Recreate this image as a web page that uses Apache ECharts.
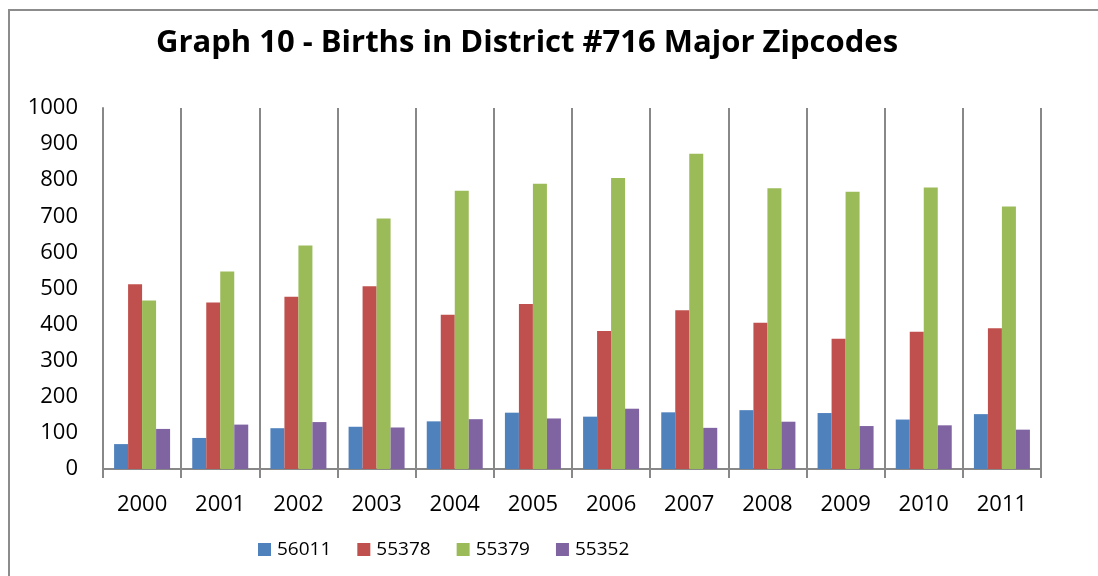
<!DOCTYPE html>
<html>
<head>
<meta charset="utf-8">
<script src="https://cdn.jsdelivr.net/npm/echarts@6/dist/echarts.min.js"></script>
<style>
  html, body { margin: 0; padding: 0; background: #fff; }
  #chart { width: 1098px; height: 576px; }
</style>
</head>
<body>
<div id="chart"></div>
<script>
const years = ["2000", "2001", "2002", "2003", "2004", "2005", "2006", "2007", "2008", "2009", "2010", "2011"];
const zip56011 = [69, 86, 113, 117, 132, 156, 145, 157, 163, 155, 137, 152];
const zip55378 = [512, 461, 477, 506, 427, 457, 382, 440, 405, 361, 380, 390];
const zip55379 = [467, 547, 619, 694, 771, 790, 806, 873, 778, 768, 780, 727];
const zip55352 = [111, 123, 130, 115, 138, 140, 167, 114, 131, 119, 121, 109];

const font = "'Open Sans', sans-serif";
const gray = "#888888";

const chart = echarts.init(document.getElementById("chart"));

const makeSeries = (name, data, color) => ({
  name,
  type: "bar",
  data,
  barWidth: 14,
  barGap: "0%",
  itemStyle: { color },
});

chart.setOption({
  animation: false,
  title: {
    text: "Graph 10 - Births in District #716 Major Zipcodes",
    left: 522,
    top: 23,
    textAlign: "center",
    textStyle: { fontFamily: font, fontWeight: "bold", fontSize: 31, color: "#000" },
  },
  graphic: [
    {
      type: "rect",
      shape: { x: 9, y: 10, width: 1200, height: 700 },
      style: { fill: "none", stroke: "#8c8c8c", lineWidth: 2 },
      silent: true,
    },
  ],
  legend: {
    left: 253,
    top: 535,
    itemWidth: 13,
    itemHeight: 13,
    itemGap: 26,
    icon: "rect",
    textStyle: { fontFamily: font, fontSize: 19, color: "#000", padding: [0, 0, 0, 1] },
  },
  grid: { left: 103, right: 57, top: 108, bottom: 107 },
  xAxis: {
    type: "category",
    data: years,
    axisLine: { lineStyle: { color: gray, width: 2 } },
    axisTick: { show: true, length: 9, interval: 0, lineStyle: { color: gray, width: 2 } },
    splitLine: { show: true, interval: 0, lineStyle: { color: gray, width: 2 } },
    axisLabel: { fontFamily: font, fontSize: 22, color: "#000", margin: 25 },
  },
  yAxis: {
    type: "value",
    min: 0,
    max: 1000,
    interval: 100,
    axisLine: { show: true, lineStyle: { color: gray, width: 2 } },
    axisTick: { show: false },
    splitLine: { show: false },
    axisLabel: {
      fontFamily: font,
      fontSize: 22,
      color: "#000",
      margin: 25,
      formatter: (value) => String(value),
    },
  },
  series: [
    makeSeries("56011", zip56011, "#4F81BD"),
    makeSeries("55378", zip55378, "#C0504D"),
    makeSeries("55379", zip55379, "#9BBB59"),
    makeSeries("55352", zip55352, "#8064A2"),
  ],
});
</script>
</body>
</html>
